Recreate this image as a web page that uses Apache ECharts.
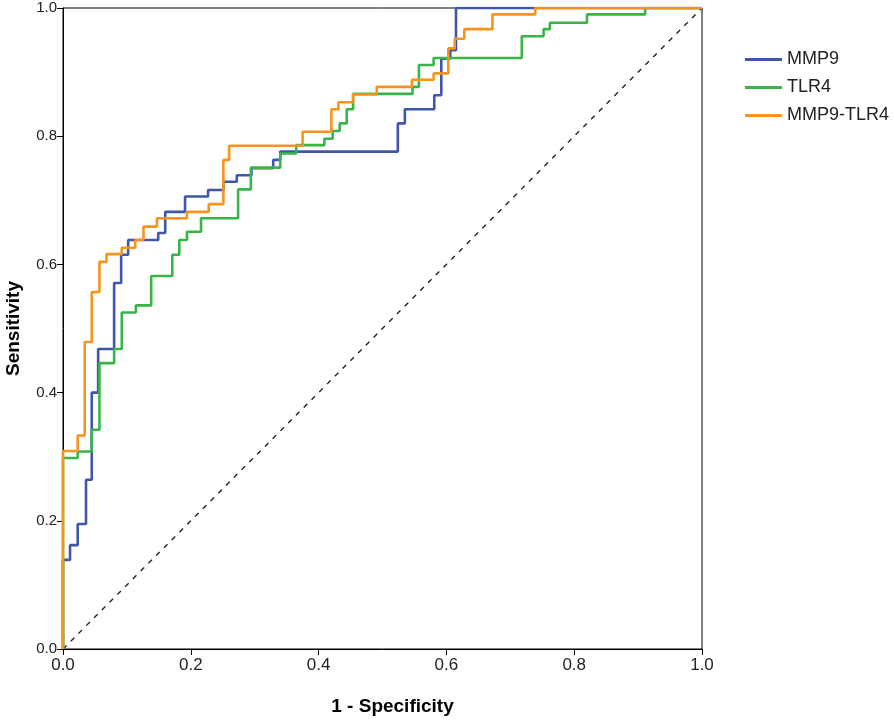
<!DOCTYPE html>
<html>
<head>
<meta charset="utf-8">
<script src="https://cdn.jsdelivr.net/npm/echarts@6/dist/echarts.min.js"></script>
<style>html,body{margin:0;padding:0;background:#fff}#c{width:894px;height:721px}</style>
</head>
<body>
<div id="c"></div>
<script>
// ROC corner points [1 - Specificity, Sensitivity]
const seriesNames = ['MMP9', 'TLR4', 'MMP9-TLR4'];
const mmp9 = [[0,0],[0,0.139],[0.011,0.162],[0.023,0.195],[0.036,0.264],[0.045,0.400],[0.055,0.468],[0.080,0.571],[0.091,0.615],[0.102,0.638],[0.149,0.649],[0.160,0.682],[0.191,0.706],[0.227,0.716],[0.251,0.729],[0.272,0.739],[0.295,0.750],[0.329,0.763],[0.340,0.776],[0.524,0.820],[0.535,0.842],[0.581,0.864],[0.592,0.921],[0.606,0.934],[0.615,1.000],[1,1]];
const tlr4 = [[0,0],[0,0.298],[0.023,0.308],[0.045,0.342],[0.057,0.446],[0.080,0.468],[0.092,0.525],[0.114,0.536],[0.138,0.582],[0.171,0.615],[0.182,0.638],[0.194,0.651],[0.216,0.672],[0.274,0.717],[0.294,0.751],[0.340,0.773],[0.365,0.786],[0.409,0.796],[0.422,0.808],[0.433,0.820],[0.444,0.842],[0.454,0.866],[0.547,0.877],[0.557,0.911],[0.580,0.922],[0.718,0.956],[0.752,0.967],[0.762,0.977],[0.820,0.990],[0.911,1.000],[1,1]];
const combo = [[0,0],[0,0.309],[0.023,0.333],[0.034,0.479],[0.045,0.557],[0.057,0.604],[0.068,0.616],[0.092,0.626],[0.113,0.638],[0.126,0.659],[0.147,0.672],[0.194,0.682],[0.228,0.694],[0.251,0.763],[0.260,0.785],[0.375,0.807],[0.420,0.842],[0.431,0.853],[0.454,0.865],[0.491,0.877],[0.546,0.888],[0.580,0.898],[0.603,0.937],[0.613,0.952],[0.628,0.967],[0.672,0.990],[0.739,1.000],[1,1]];
const reference = [[0,0],[1,1]];
const colors = ['#3F56AA', '#38B449', '#F7941E'];

const chart = echarts.init(document.getElementById('c'), null, {renderer: 'canvas'});
const axisCommon = {
  type: 'value', min: 0, max: 1, interval: 0.2,
  axisLine: {show: true, lineStyle: {color: '#000', width: 1}},
  axisTick: {show: true, inside: false, length: 6, lineStyle: {color: '#000'}},
  splitLine: {show: false},
  nameLocation: 'middle'
};
const lineSeries = (name, data, color) => ({
  name, type: 'line', data, step: 'end', symbol: 'none',
  lineStyle: {color, width: 2.6}, itemStyle: {color},
  animation: false, z: 3
});
chart.setOption({
  animation: false,
  grid: {left: 63, top: 8, right: 192, bottom: 72, containLabel: false, outerBoundsMode: 'none', show: true, borderColor: '#000', borderWidth: 1, backgroundColor: 'transparent'},
  legend: {
    data: seriesNames, orient: 'vertical', left: 740, top: 45,
    icon: 'rect', itemWidth: 37, itemHeight: 3, itemGap: 9,
    textStyle: {fontFamily: 'Liberation Sans, Arial', fontSize: 18, color: '#222', lineHeight: 19}
  },
  xAxis: Object.assign({}, axisCommon, {
    name: '1 - Specificity', nameGap: 48,
    nameTextStyle: {fontFamily: 'Liberation Sans, Arial', fontWeight: 'bold', fontSize: 19, color: '#000', padding: [0, 0, 0, 20]},
    axisLabel: {fontFamily: 'Liberation Sans, Arial', fontSize: 17, color: '#222', margin: 8, formatter: v => v.toFixed(1)}
  }),
  yAxis: Object.assign({}, axisCommon, {
    name: 'Sensitivity', nameGap: 40,
    nameTextStyle: {fontFamily: 'Liberation Sans, Arial', fontWeight: 'bold', fontSize: 19, color: '#000'},
    axisLabel: {fontFamily: 'Liberation Sans, Arial', fontSize: 15, color: '#222', margin: 6, formatter: v => v.toFixed(1)}
  }),
  series: [
    {name: 'ref', type: 'line', data: reference, symbol: 'none', lineStyle: {color: '#222', width: 1.4, type: [5, 6]}, z: 2, animation: false},
    lineSeries(seriesNames[0], mmp9, colors[0]),
    lineSeries(seriesNames[1], tlr4, colors[1]),
    lineSeries(seriesNames[2], combo, colors[2])
  ]
});
</script>
</body>
</html>
